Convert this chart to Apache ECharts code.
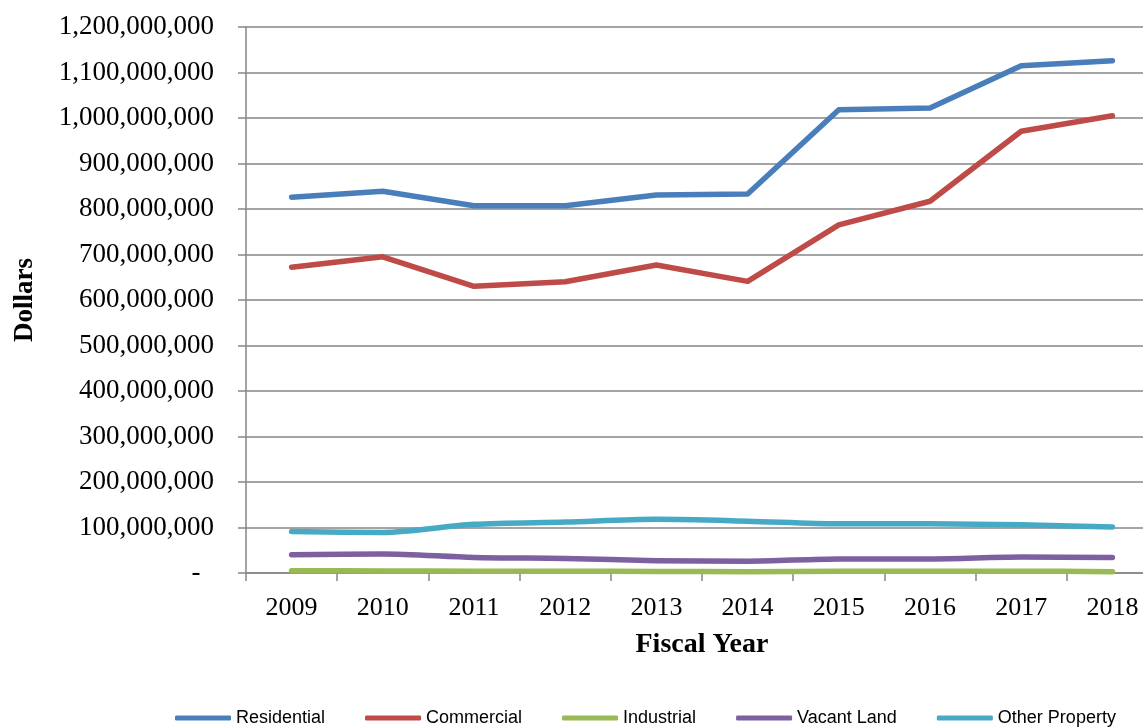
<!DOCTYPE html>
<html>
<head>
    <meta charset="UTF-8">
    <title></title>
    <script type="text/javascript" src="https://cdn.jsdelivr.net/npm/echarts@6/dist/echarts.min.js"></script>
    <style>
        html, body { margin: 0; padding: 0; background: #fff; }
    </style>
</head>
<body>

<div id="main" style="height: 728px; width: 1143px;"></div>
<script type="text/javascript">

    var years = ['2009', '2010', '2011', '2012', '2013', '2014', '2015', '2016', '2017', '2018'];

    var residential = [826000000, 839000000, 807000000, 807000000, 831000000, 833000000, 1018000000, 1022000000, 1115000000, 1126000000];
    var commercial = [672000000, 695000000, 630000000, 640000000, 677000000, 641000000, 765000000, 817000000, 971000000, 1005000000];
    var industrial = [5000000, 4500000, 4000000, 4000000, 3500000, 3000000, 4000000, 4000000, 4000000, 3000000];
    var vacantLand = [40000000, 42000000, 34000000, 32000000, 27000000, 26000000, 31000000, 31000000, 35000000, 34000000];
    var otherProperty = [91000000, 89000000, 107000000, 112000000, 118000000, 114000000, 108000000, 108000000, 106000000, 101000000];

    var seriesNames = ['Residential', 'Commercial', 'Industrial', 'Vacant Land', 'Other Property'];
    var colors = ['#4a7ebb', '#be4b48', '#98b954', '#7d60a0', '#46aac5'];

    var myChart = echarts.init(document.getElementById('main'));

    function fmt(v) {
        if (v === 0) return '-  ';
        return String(v).replace(/\B(?=(\d{3})+(?!\d))/g, ',');
    }

    function line(name, data, color, smooth) {
        return {
            name: name,
            type: 'line',
            data: data,
            smooth: smooth,
            symbol: 'none',
            lineStyle: { color: color, width: 5.5, cap: 'round', join: 'round' },
            itemStyle: { color: color }
        };
    }

    option = {
        animation: false,
        backgroundColor: '#fff',
        grid: {
            left: 246,
            top: 27,
            width: 912,
            bottom: 155,
            containLabel: false,
            outerBoundsMode: 'none'
        },
        legend: {
            data: seriesNames,
            left: 170,
            top: 704,
            icon: 'roundRect',
            itemWidth: 56,
            itemHeight: 5,
            itemGap: 40,
            textStyle: {
                fontFamily: 'Liberation Sans',
                fontSize: 18,
                color: '#000'
            }
        },
        xAxis: {
            type: 'category',
            data: years,
            name: 'Fiscal Year',
            nameLocation: 'middle',
            nameGap: 58,
            nameTextStyle: {
                fontFamily: 'Liberation Serif',
                fontSize: 28,
                fontWeight: 'bold',
                color: '#000'
            },
            axisLine: { lineStyle: { color: '#868686', width: 1.5 } },
            axisTick: { show: true, length: 8, lineStyle: { color: '#868686', width: 1.5 } },
            axisLabel: {
                margin: 22,
                fontFamily: 'Liberation Serif',
                fontSize: 26,
                color: '#000'
            }
        },
        yAxis: {
            type: 'value',
            min: 0,
            max: 1200000000,
            interval: 100000000,
            name: 'Dollars',
            nameLocation: 'middle',
            nameRotate: 90,
            nameGap: 207,
            nameTextStyle: {
                fontFamily: 'Liberation Serif',
                fontSize: 27,
                fontWeight: 'bold',
                color: '#000'
            },
            axisLine: { show: true, lineStyle: { color: '#868686', width: 1.5 } },
            axisTick: { show: true, length: 8, lineStyle: { color: '#868686', width: 1.5 } },
            splitLine: { show: true, lineStyle: { color: '#868686', width: 1.5 } },
            axisLabel: {
                margin: 32,
                fontFamily: 'Liberation Serif',
                fontSize: 27,
                color: '#000',
                formatter: fmt
            }
        },
        series: [
            line('Residential', residential, colors[0], false),
            line('Commercial', commercial, colors[1], false),
            line('Industrial', industrial, colors[2], 0.3),
            line('Vacant Land', vacantLand, colors[3], 0.3),
            line('Other Property', otherProperty, colors[4], 0.3)
        ]
    };

    myChart.setOption(option);

</script>

</body>
</html>
